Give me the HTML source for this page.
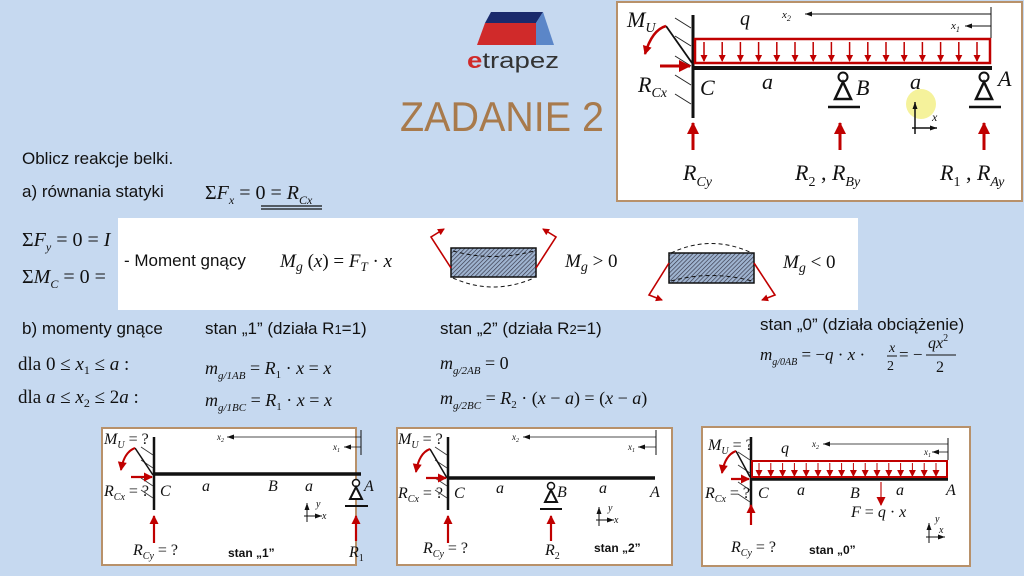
<!DOCTYPE html>
<html><head><meta charset="utf-8"><style>
html,body{margin:0;padding:0;background:#c6d9f0;}
svg{display:block}
.s{font-family:"Liberation Sans",sans-serif;fill:#111}
.m{font-family:"Liberation Serif",serif;font-style:italic;fill:#111}
.r{font-family:"Liberation Serif",serif;fill:#111}
</style></head><body>
<svg id="sv" width="1024" height="576" viewBox="0 0 1024 576" xmlns="http://www.w3.org/2000/svg">
<defs>
<marker id="ar" markerWidth="16" markerHeight="16" refX="11" refY="8" orient="auto" markerUnits="userSpaceOnUse" overflow="visible"><path d="M0,2 L12,8 L0,14 z" fill="#c00000"/></marker>
<marker id="am" markerWidth="12" markerHeight="12" refX="8" refY="6" orient="auto" markerUnits="userSpaceOnUse" overflow="visible"><path d="M0,1.5 L9,6 L0,10.5 z" fill="#c00000"/></marker>
<marker id="as" markerWidth="8" markerHeight="8" refX="6" refY="4" orient="auto" markerUnits="userSpaceOnUse" overflow="visible"><path d="M0,0.5 L7,4 L0,7.5 z" fill="#c00000"/></marker>
<marker id="ak" markerWidth="8" markerHeight="6" refX="7" refY="3" orient="auto" markerUnits="userSpaceOnUse"><path d="M0,0.5 L7,3 L0,5.5 z" fill="#111"/></marker>
<pattern id="h" width="3" height="3" patternUnits="userSpaceOnUse" patternTransform="rotate(45)"><rect width="3" height="3" fill="#9fb4d0"/><line x1="0" y1="0" x2="0" y2="3" stroke="#334" stroke-width="1.3"/></pattern>
</defs>
<rect width="1024" height="576" fill="#c6d9f0"/>

<!-- logo -->
<polygon points="491,12 543,12 536,23 485,23" fill="#1a2a6c"/>
<polygon points="485,23 536,23 536,45 477,45" fill="#d02a2a"/>
<polygon points="543,12 554,45 536,45 536,23" fill="#5b86c8"/>
<text x="467" y="68" font-size="22" class="s" style="fill:#333" textLength="92" lengthAdjust="spacingAndGlyphs"><tspan style="fill:#d02a2a;font-weight:bold">e</tspan>trapez</text>
<text x="400" y="131" font-size="42" class="s" style="fill:#a87a4c" textLength="204" lengthAdjust="spacingAndGlyphs">ZADANIE 2</text>

<!-- left texts -->
<text x="22" y="164" font-size="17" class="s">Oblicz reakcje belki.</text>
<text x="22" y="197" font-size="17" class="s">a) równania statyki</text>
<text x="205" y="199" font-size="20" class="r">Σ<tspan class="m">F</tspan><tspan font-size="12" dy="5" class="m">x</tspan><tspan dy="-5"> = 0 = </tspan><tspan class="m">R</tspan><tspan font-size="12" dy="5" class="m">Cx</tspan></text>
<line x1="261" y1="206" x2="322" y2="206" stroke="#111" stroke-width="1.2"/>
<line x1="261" y1="209" x2="322" y2="209" stroke="#111" stroke-width="1.2"/>
<text x="22" y="246" font-size="20" class="r">Σ<tspan class="m">F</tspan><tspan font-size="12" dy="5" class="m">y</tspan><tspan dy="-5"> = 0 = </tspan><tspan class="m">I</tspan></text>
<text x="22" y="283" font-size="20" class="r">Σ<tspan class="m">M</tspan><tspan font-size="12" dy="5" class="m">C</tspan><tspan dy="-5"> = 0 =</tspan></text>

<!-- white band -->
<rect x="118" y="218" width="740" height="92" fill="#fff"/>
<text x="124" y="266" font-size="17" class="s">- Moment gnący</text>
<text x="280" y="267" font-size="19" class="m">M<tspan font-size="14" dy="4">g</tspan><tspan dy="-4" class="r" style="font-style:normal"> (</tspan>x<tspan class="r" style="font-style:normal">) = </tspan>F<tspan font-size="13" dy="4">T</tspan><tspan dy="-4" class="r" style="font-style:normal"> · </tspan>x</text>
<rect x="451" y="248" width="85" height="29" fill="url(#h)" stroke="#111" stroke-width="1.5"/>
<path d="M453,251 Q493,262 534,251" fill="none" stroke="#111" stroke-dasharray="4,3"/>
<path d="M453,278 Q493,296 534,278" fill="none" stroke="#111" stroke-dasharray="4,3"/>
<path d="M451,268 L431,237 L444,229" fill="none" stroke="#c00000" stroke-width="1.6" marker-end="url(#as)"/>
<path d="M536,268 L556,237 L543,229" fill="none" stroke="#c00000" stroke-width="1.6" marker-end="url(#as)"/>
<text x="565" y="267" font-size="19" class="m">M<tspan font-size="14" dy="4">g</tspan><tspan dy="-4" class="r" style="font-style:normal"> &gt; 0</tspan></text>
<rect x="669" y="253" width="85" height="30" fill="url(#h)" stroke="#111" stroke-width="1.5"/>
<path d="M671,253 Q711,234 752,253" fill="none" stroke="#111" stroke-dasharray="4,3"/>
<path d="M671,281 Q711,270 752,281" fill="none" stroke="#111" stroke-dasharray="4,3"/>
<path d="M669,263 L649,295 L662,300" fill="none" stroke="#c00000" stroke-width="1.6" marker-end="url(#as)"/>
<path d="M754,263 L775,295 L762,300" fill="none" stroke="#c00000" stroke-width="1.6" marker-end="url(#as)"/>
<text x="783" y="268" font-size="19" class="m">M<tspan font-size="14" dy="4">g</tspan><tspan dy="-4" class="r" style="font-style:normal"> &lt; 0</tspan></text>

<!-- section b -->
<text x="22" y="334" font-size="17" class="s">b) momenty gnące</text>
<text x="205" y="334" font-size="17" class="s">stan „1” (działa R<tspan font-size="13">1</tspan>=1)</text>
<text x="440" y="334" font-size="17" class="s">stan „2” (działa R<tspan font-size="13">2</tspan>=1)</text>
<text x="760" y="330" font-size="17" class="s">stan „0” (działa obciążenie)</text>
<text x="18" y="370" font-size="19" class="r">dla 0 ≤ <tspan class="m">x</tspan><tspan font-size="12" dy="4">1</tspan><tspan dy="-4"> ≤ </tspan><tspan class="m">a</tspan> :</text>
<text x="18" y="403" font-size="19" class="r">dla <tspan class="m">a</tspan> ≤ <tspan class="m">x</tspan><tspan font-size="12" dy="4">2</tspan><tspan dy="-4"> ≤ 2</tspan><tspan class="m">a</tspan> :</text>
<text x="205" y="374" font-size="18" class="m">m<tspan font-size="11" dy="5">g/1AB</tspan><tspan dy="-5" class="r" style="font-style:normal"> = </tspan>R<tspan font-size="11" dy="4" class="r" style="font-style:normal">1</tspan><tspan dy="-4" class="r" style="font-style:normal"> · </tspan>x<tspan class="r" style="font-style:normal"> = </tspan>x</text>
<text x="205" y="406" font-size="18" class="m">m<tspan font-size="11" dy="5">g/1BC</tspan><tspan dy="-5" class="r" style="font-style:normal"> = </tspan>R<tspan font-size="11" dy="4" class="r" style="font-style:normal">1</tspan><tspan dy="-4" class="r" style="font-style:normal"> · </tspan>x<tspan class="r" style="font-style:normal">  = </tspan>x</text>
<text x="440" y="369" font-size="18" class="m">m<tspan font-size="11" dy="5">g/2AB</tspan><tspan dy="-5" class="r" style="font-style:normal"> = 0</tspan></text>
<text x="440" y="404" font-size="18" class="m">m<tspan font-size="11" dy="5">g/2BC</tspan><tspan dy="-5" class="r" style="font-style:normal"> = </tspan>R<tspan font-size="11" dy="4" class="r" style="font-style:normal">2</tspan><tspan dy="-4" class="r" style="font-style:normal"> · (</tspan>x<tspan class="r" style="font-style:normal"> − </tspan>a<tspan class="r" style="font-style:normal">) = (</tspan>x<tspan class="r" style="font-style:normal"> − </tspan>a<tspan class="r" style="font-style:normal">)</tspan></text>
<text x="760" y="360" font-size="17" class="m">m<tspan font-size="10" dy="5">g/0AB</tspan><tspan dy="-5" class="r" style="font-style:normal"> = −</tspan>q<tspan class="r" style="font-style:normal"> · </tspan>x<tspan class="r" style="font-style:normal"> · </tspan></text>
<text x="889" y="352" font-size="14" class="m">x</text><line x1="887" y1="356" x2="897" y2="356" stroke="#111"/><text x="887" y="370" font-size="14" class="r">2</text>
<text x="899" y="360" font-size="17" class="r">= −</text>
<text x="928" y="348" font-size="16" class="m">qx<tspan font-size="10" dy="-7" class="r" style="font-style:normal">2</tspan></text>
<line x1="926" y1="355" x2="956" y2="355" stroke="#111"/><text x="936" y="372" font-size="16" class="r">2</text>

<!-- top-right panel -->
<rect x="617" y="2" width="405" height="199" fill="#fff" stroke="#b8916a" stroke-width="2"/>
<line x1="693" y1="15" x2="693" y2="118" stroke="#111" stroke-width="3"/>
<line x1="693" y1="68" x2="992" y2="68" stroke="#111" stroke-width="4"/>
<rect x="695" y="39" width="295" height="24" fill="none" stroke="#c00000" stroke-width="2.5"/>
<line x1="991" y1="7" x2="991" y2="38" stroke="#111"/>
<line x1="991" y1="14" x2="805" y2="14" stroke="#111" marker-end="url(#ak)"/>
<line x1="991" y1="26" x2="965" y2="26" stroke="#111" marker-end="url(#ak)"/>
<path d="M675,18 L691,28 M675,36 L691,46 M675,56 L691,66 M675,75 L691,85 M675,94 L691,104" stroke="#222"/>
<path d="M666,26 L692,63" stroke="#111" stroke-width="1.8" fill="none"/>
<path d="M666,26 Q652,30 645,54" stroke="#c00000" stroke-width="2.5" fill="none" marker-end="url(#am)"/>
<line x1="660" y1="66" x2="690" y2="66" stroke="#c00000" stroke-width="3" marker-end="url(#ar)"/>
<circle cx="843" cy="77" r="4.5" fill="#fff" stroke="#111" stroke-width="2"/>
<polygon points="843,82 835,99 851,99" fill="#fff" stroke="#111" stroke-width="2.5"/>
<line x1="828" y1="107" x2="860" y2="107" stroke="#111" stroke-width="2.5"/>
<circle cx="984" cy="77" r="4.5" fill="#fff" stroke="#111" stroke-width="2"/>
<polygon points="984,82 976,99 992,99" fill="#fff" stroke="#111" stroke-width="2.5"/>
<line x1="969" y1="107" x2="1001" y2="107" stroke="#111" stroke-width="2.5"/>
<line x1="693" y1="150" x2="693" y2="123" stroke="#c00000" stroke-width="3" marker-end="url(#ar)"/>
<line x1="840" y1="150" x2="840" y2="123" stroke="#c00000" stroke-width="3" marker-end="url(#ar)"/>
<line x1="984" y1="150" x2="984" y2="123" stroke="#c00000" stroke-width="3" marker-end="url(#ar)"/>
<circle cx="921" cy="104" r="15" fill="#f3f08a" opacity="0.85"/>
<line x1="912" y1="128" x2="937" y2="128" stroke="#111" stroke-width="1.5" marker-end="url(#ak)"/>
<line x1="915" y1="134" x2="915" y2="102" stroke="#111" stroke-width="1.5" marker-end="url(#ak)"/>
<text x="627" y="27" font-size="22" class="m">M<tspan font-size="14" dy="5">U</tspan></text>
<text x="740" y="25" font-size="20" class="m">q</text>
<text x="782" y="18" font-size="11" class="m">x<tspan font-size="8" dy="3">2</tspan></text>
<text x="951" y="29" font-size="11" class="m">x<tspan font-size="8" dy="3">1</tspan></text>
<text x="638" y="92" font-size="22" class="m">R<tspan font-size="14" dy="5">Cx</tspan></text>
<text x="700" y="95" font-size="22" class="m">C</text>
<text x="762" y="89" font-size="22" class="m">a</text>
<text x="856" y="95" font-size="22" class="m">B</text>
<text x="910" y="89" font-size="22" class="m">a</text>
<text x="998" y="86" font-size="22" class="m">A</text>
<text x="932" y="121" font-size="12" class="m">x</text>
<text x="683" y="180" font-size="22" class="m">R<tspan font-size="14" dy="6">Cy</tspan></text>
<text x="795" y="180" font-size="22" class="m">R<tspan font-size="14" dy="6" class="r" style="font-style:normal">2</tspan><tspan dy="-6" class="r" style="font-style:normal"> , </tspan>R<tspan font-size="14" dy="6">By</tspan></text>
<text x="940" y="180" font-size="22" class="m">R<tspan font-size="14" dy="6" class="r" style="font-style:normal">1</tspan><tspan dy="-6" class="r" style="font-style:normal"> , </tspan>R<tspan font-size="14" dy="6">Ay</tspan></text>

<!-- bottom panel 1 -->
<rect x="102" y="428" width="254" height="137" fill="#fff" stroke="#b8916a" stroke-width="2"/>
<line x1="154" y1="437" x2="154" y2="510" stroke="#111" stroke-width="2.5"/>
<line x1="154" y1="474" x2="361" y2="474" stroke="#111" stroke-width="3.5"/>
<line x1="361" y1="430" x2="361" y2="455" stroke="#111"/>
<line x1="361" y1="437" x2="227" y2="437" stroke="#111" stroke-width="0.8" marker-end="url(#ak)"/>
<line x1="361" y1="447" x2="344" y2="447" stroke="#111" stroke-width="0.8" marker-end="url(#ak)"/>
<path d="M141,447 L153,455 M141,460 L153,468 M141,478 L153,486 M141,490 L153,498" stroke="#333" stroke-width="0.8"/>
<path d="M135,448 L153,475" stroke="#111" stroke-width="1.5"/>
<path d="M135,448 Q124,452 121,470" stroke="#c00000" stroke-width="2" fill="none" marker-end="url(#am)"/>
<line x1="131" y1="477" x2="152" y2="477" stroke="#c00000" stroke-width="2.2" marker-end="url(#am)"/>
<circle cx="356" cy="483" r="3.5" fill="#fff" stroke="#111" stroke-width="1.5"/>
<polygon points="356,487 350,499 362,499" fill="#fff" stroke="#111" stroke-width="2"/>
<line x1="345" y1="506" x2="368" y2="506" stroke="#111" stroke-width="2"/>
<line x1="154" y1="543" x2="154" y2="516" stroke="#c00000" stroke-width="2.2" marker-end="url(#am)"/>
<line x1="356" y1="541" x2="356" y2="516" stroke="#c00000" stroke-width="2.2" marker-end="url(#am)"/>
<line x1="304" y1="516" x2="322" y2="516" stroke="#111" marker-end="url(#ak)"/><line x1="307" y1="522" x2="307" y2="503" stroke="#111" marker-end="url(#ak)"/>
<text x="104" y="444" font-size="16" class="m">M<tspan font-size="10" dy="4">U</tspan><tspan dy="-4" class="r" style="font-style:normal"> = ?</tspan></text>
<text x="104" y="496" font-size="16" class="m">R<tspan font-size="10" dy="4">Cx</tspan><tspan dy="-4" class="r" style="font-style:normal"> = ?</tspan></text>
<text x="160" y="496" font-size="16" class="m">C</text>
<text x="202" y="491" font-size="16" class="m">a</text>
<text x="268" y="491" font-size="16" class="m">B</text>
<text x="305" y="491" font-size="16" class="m">a</text>
<text x="364" y="491" font-size="16" class="m">A</text>
<text x="217" y="440" font-size="9" class="m">x<tspan font-size="6" dy="2">2</tspan></text>
<text x="333" y="450" font-size="9" class="m">x<tspan font-size="6" dy="2">1</tspan></text>
<text x="316" y="507" font-size="10" class="m">y</text><text x="322" y="519" font-size="10" class="m">x</text>
<text x="133" y="555" font-size="16" class="m">R<tspan font-size="10" dy="4">Cy</tspan><tspan dy="-4" class="r" style="font-style:normal"> = ?</tspan></text>
<text x="228" y="557" font-size="12" class="s" font-weight="bold">stan „1”</text>
<text x="349" y="557" font-size="16" class="m">R<tspan font-size="10" dy="4" class="r" style="font-style:normal">1</tspan></text>

<!-- bottom panel 2 -->
<rect x="397" y="428" width="275" height="137" fill="#fff" stroke="#b8916a" stroke-width="2"/>
<line x1="448" y1="437" x2="448" y2="510" stroke="#111" stroke-width="2.5"/>
<line x1="448" y1="478" x2="655" y2="478" stroke="#111" stroke-width="3.5"/>
<line x1="656" y1="430" x2="656" y2="455" stroke="#111"/>
<line x1="656" y1="437" x2="523" y2="437" stroke="#111" stroke-width="0.8" marker-end="url(#ak)"/>
<line x1="656" y1="447" x2="638" y2="447" stroke="#111" stroke-width="0.8" marker-end="url(#ak)"/>
<path d="M435,447 L447,455 M435,460 L447,468 M435,478 L447,486 M435,490 L447,498" stroke="#333" stroke-width="0.8"/>
<path d="M430,449 L447,478" stroke="#111" stroke-width="1.5"/>
<path d="M430,449 Q419,453 416,472" stroke="#c00000" stroke-width="2" fill="none" marker-end="url(#am)"/>
<line x1="426" y1="478" x2="446" y2="478" stroke="#c00000" stroke-width="2.2" marker-end="url(#am)"/>
<circle cx="551" cy="486" r="3.5" fill="#fff" stroke="#111" stroke-width="1.5"/>
<polygon points="551,490 545,502 557,502" fill="#fff" stroke="#111" stroke-width="2"/>
<line x1="540" y1="509" x2="562" y2="509" stroke="#111" stroke-width="2"/>
<line x1="448" y1="543" x2="448" y2="516" stroke="#c00000" stroke-width="2.2" marker-end="url(#am)"/>
<line x1="551" y1="541" x2="551" y2="516" stroke="#c00000" stroke-width="2.2" marker-end="url(#am)"/>
<line x1="596" y1="520" x2="614" y2="520" stroke="#111" marker-end="url(#ak)"/><line x1="599" y1="526" x2="599" y2="507" stroke="#111" marker-end="url(#ak)"/>
<text x="398" y="444" font-size="16" class="m">M<tspan font-size="10" dy="4">U</tspan><tspan dy="-4" class="r" style="font-style:normal"> = ?</tspan></text>
<text x="398" y="498" font-size="16" class="m">R<tspan font-size="10" dy="4">Cx</tspan><tspan dy="-4" class="r" style="font-style:normal"> = ?</tspan></text>
<text x="454" y="498" font-size="16" class="m">C</text>
<text x="496" y="493" font-size="16" class="m">a</text>
<text x="557" y="497" font-size="16" class="m">B</text>
<text x="599" y="493" font-size="16" class="m">a</text>
<text x="650" y="497" font-size="16" class="m">A</text>
<text x="512" y="440" font-size="9" class="m">x<tspan font-size="6" dy="2">2</tspan></text>
<text x="628" y="450" font-size="9" class="m">x<tspan font-size="6" dy="2">1</tspan></text>
<text x="608" y="511" font-size="10" class="m">y</text><text x="614" y="523" font-size="10" class="m">x</text>
<text x="423" y="553" font-size="16" class="m">R<tspan font-size="10" dy="4">Cy</tspan><tspan dy="-4" class="r" style="font-style:normal"> = ?</tspan></text>
<text x="545" y="555" font-size="16" class="m">R<tspan font-size="10" dy="4" class="r" style="font-style:normal">2</tspan></text>
<text x="594" y="552" font-size="12" class="s" font-weight="bold">stan „2”</text>

<!-- bottom panel 3 -->
<rect x="702" y="427" width="268" height="139" fill="#fff" stroke="#b8916a" stroke-width="2"/>
<line x1="751" y1="437" x2="751" y2="512" stroke="#111" stroke-width="2.5"/>
<line x1="751" y1="479" x2="948" y2="479" stroke="#111" stroke-width="3.5"/>
<rect x="752" y="461" width="195" height="16" fill="none" stroke="#c00000" stroke-width="2"/>
<line x1="948" y1="438" x2="948" y2="460" stroke="#111"/>
<line x1="948" y1="444" x2="823" y2="444" stroke="#111" stroke-width="0.8" marker-end="url(#ak)"/>
<line x1="948" y1="452" x2="932" y2="452" stroke="#111" stroke-width="0.8" marker-end="url(#ak)"/>
<path d="M738,452 L750,460 M738,465 L750,473 M738,482 L750,490 M738,494 L750,502" stroke="#333" stroke-width="0.8"/>
<path d="M736,451 L750,477" stroke="#111" stroke-width="1.5"/>
<path d="M736,451 Q725,455 722,473" stroke="#c00000" stroke-width="2" fill="none" marker-end="url(#am)"/>
<line x1="731" y1="479" x2="749" y2="479" stroke="#c00000" stroke-width="2.2" marker-end="url(#am)"/>
<line x1="881" y1="482" x2="881" y2="505" stroke="#d04040" stroke-width="1.5" marker-end="url(#am)"/>
<line x1="751" y1="525" x2="751" y2="505" stroke="#c00000" stroke-width="2.2" marker-end="url(#am)"/>
<line x1="926" y1="537" x2="945" y2="537" stroke="#111" marker-end="url(#ak)"/><line x1="929" y1="543" x2="929" y2="523" stroke="#111" marker-end="url(#ak)"/>
<text x="708" y="450" font-size="16" class="m">M<tspan font-size="10" dy="4">U</tspan><tspan dy="-4" class="r" style="font-style:normal"> = ?</tspan></text>
<text x="781" y="453" font-size="16" class="m">q</text>
<text x="705" y="498" font-size="16" class="m">R<tspan font-size="10" dy="4">Cx</tspan><tspan dy="-4" class="r" style="font-style:normal"> = ?</tspan></text>
<text x="758" y="498" font-size="16" class="m">C</text>
<text x="797" y="495" font-size="16" class="m">a</text>
<text x="850" y="498" font-size="16" class="m">B</text>
<text x="896" y="495" font-size="16" class="m">a</text>
<text x="946" y="495" font-size="16" class="m">A</text>
<text x="812" y="447" font-size="9" class="m">x<tspan font-size="6" dy="2">2</tspan></text>
<text x="924" y="455" font-size="9" class="m">x<tspan font-size="6" dy="2">1</tspan></text>
<text x="851" y="517" font-size="16" class="m">F<tspan class="r" style="font-style:normal"> = </tspan>q<tspan class="r" style="font-style:normal"> · </tspan>x</text>
<text x="935" y="522" font-size="10" class="m">y</text><text x="939" y="533" font-size="10" class="m">x</text>
<text x="731" y="552" font-size="16" class="m">R<tspan font-size="10" dy="4">Cy</tspan><tspan dy="-4" class="r" style="font-style:normal"> = ?</tspan></text>
<text x="809" y="554" font-size="12" class="s" font-weight="bold">stan „0”</text>
<g id="loads"></g>
</svg>
<script>
var g=document.getElementById('loads'),ns='http://www.w3.org/2000/svg';
function ar(x,y1,y2,w,m){var l=document.createElementNS(ns,'line');l.setAttribute('x1',x);l.setAttribute('x2',x);l.setAttribute('y1',y1);l.setAttribute('y2',y2);l.setAttribute('stroke','#c00000');l.setAttribute('stroke-width',w);l.setAttribute('marker-end','url(#'+m+')');g.appendChild(l);}
for(var i=0;i<16;i++){ar(704+i*18.2,42,61,1.5,'as');}
for(var i=0;i<16;i++){ar(759+i*11.8,463,476,1,'as');}
</script>
</body></html>
